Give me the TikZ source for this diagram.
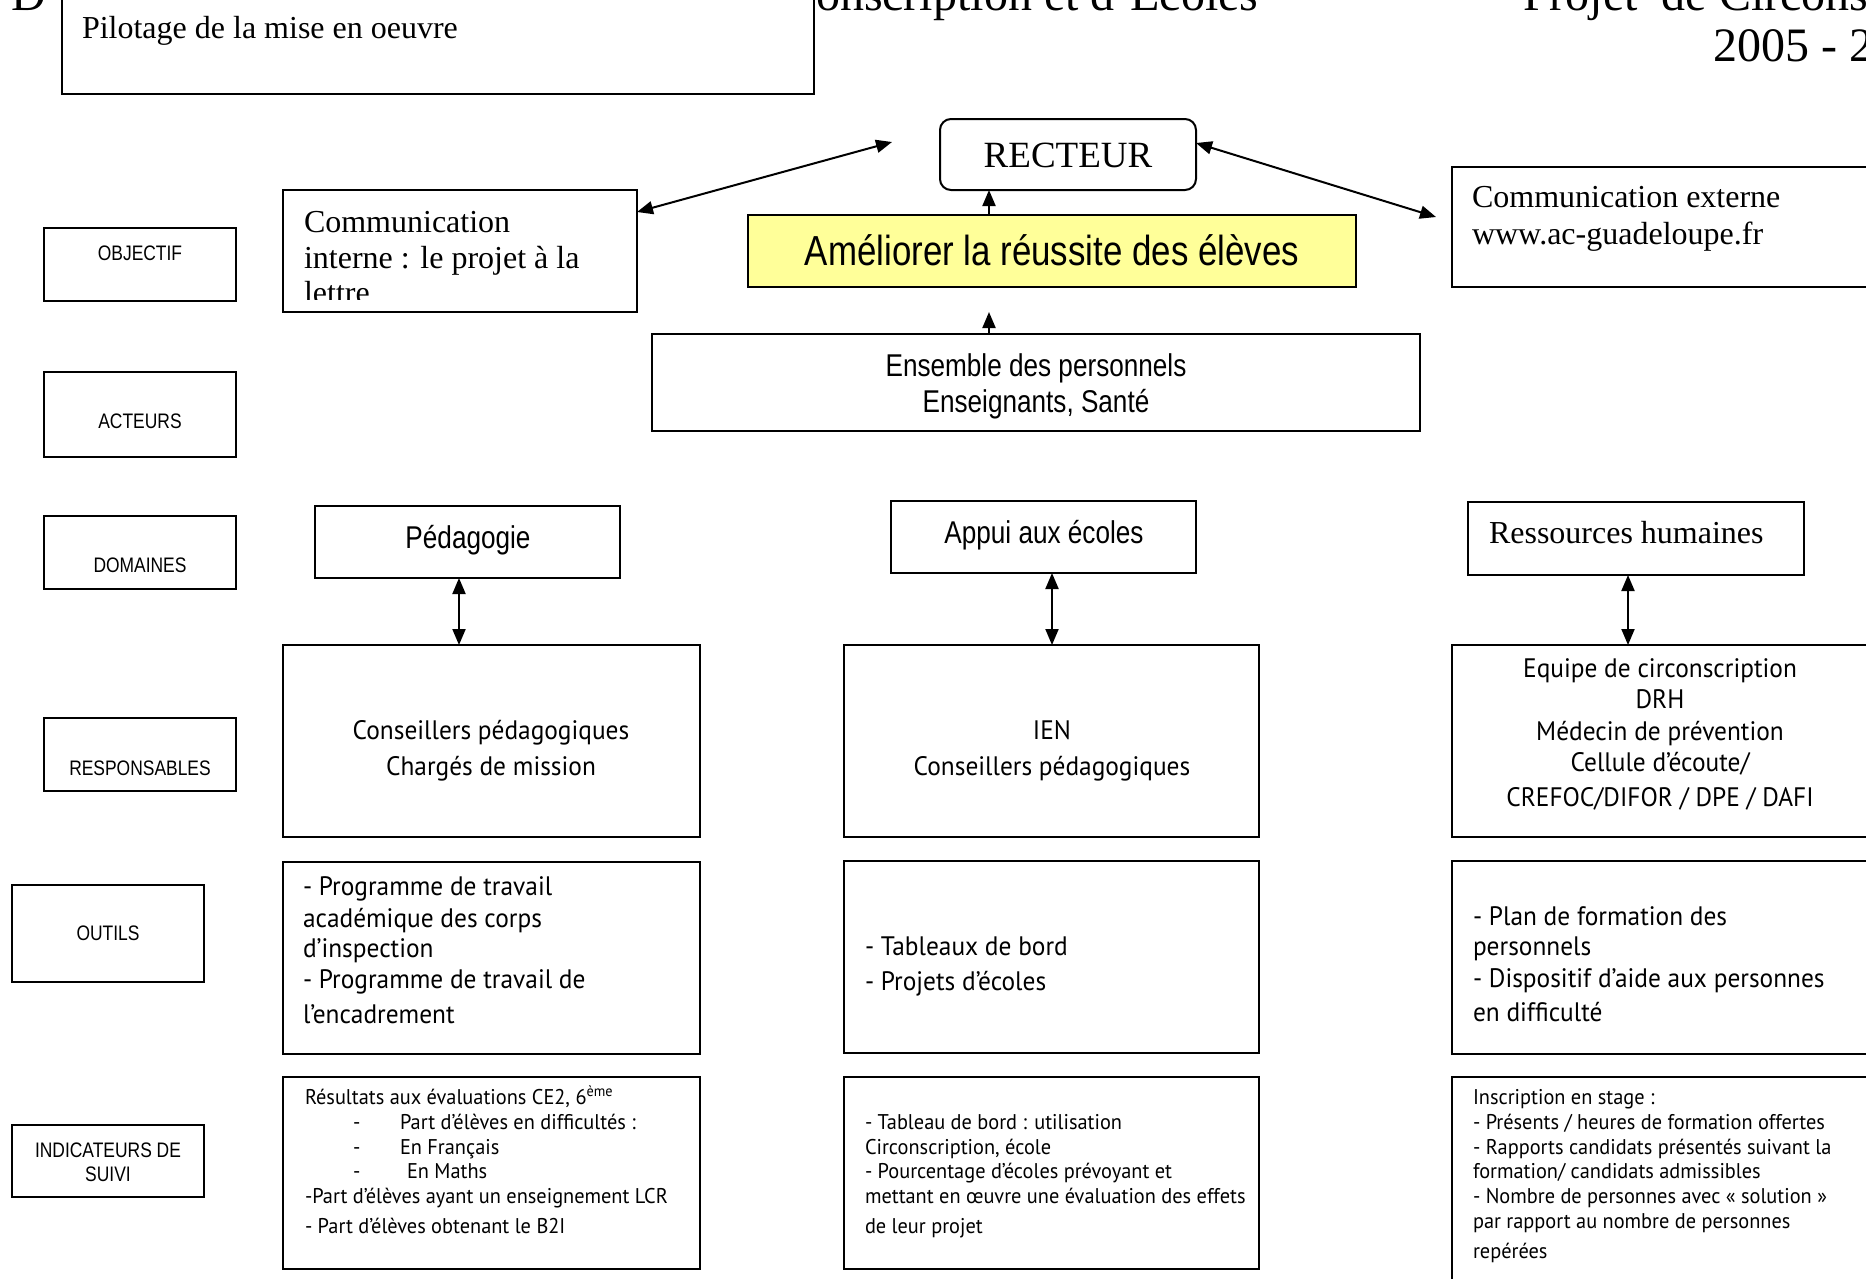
\documentclass[tikz,border=0pt]{standalone}
\usepackage{fontspec}
\setmainfont{Liberation Serif}
\newfontfamily\nsansfam[FakeStretch=0.83]{Liberation Sans}
\newfontfamily\gillfam[FakeStretch=0.95]{PT Sans}
\newfontfamily\gillsmall[FakeStretch=0.955]{PT Sans}
\usetikzlibrary{arrows.meta}
\definecolor{amelfill}{HTML}{FFFF99}
\newcommand\fSer[1]{\rmfamily\fontsize{#1}{#1}\selectfont}
\newcommand\fNs[1]{\nsansfam\fontsize{#1}{#1}\selectfont}
\newcommand\fGs[1]{\gillfam\fontsize{#1}{#1}\selectfont}
\newcommand\fGt[1]{\gillsmall\fontsize{#1}{#1}\selectfont}
\newcommand\mkbox[6][]{\node[box,anchor=north west,minimum width={#5pt-(#3pt)},minimum height={#6pt-(#4pt)},#1] (#2) at (#3,#4) {};}
\newcommand\tx[5][base west]{\node[tx,anchor=#1] (#2) at (#3,#4) {#5};}
\begin{document}
\begin{tikzpicture}[x=1pt,y=-1pt,
  box/.style={draw,line width=2pt,inner sep=0pt,outer sep=0pt,fill=white},
  tx/.style={inner sep=0pt,outer sep=0pt},
  darr/.style={line width=2pt,{Triangle[length=16pt,width=13pt]}-{Triangle[length=16pt,width=13pt]}},
  uarr/.style={line width=2pt,-{Triangle[length=16pt,width=13pt]}}]
\useasboundingbox (0,0) rectangle (1866,1278);
\clip (0,0) rectangle (1866,1278);
\fill[white] (0,0) rectangle (1866,1278);

% header
\begin{scope}[font=\fSer{48}]
\tx{hD}{12}{10}{D}
\tx{hB}{816}{10}{onscription et d’Ecoles}
\tx{hC}{1523}{10}{Projet\ \ de Circonscription}
\tx{hY}{1713}{61}{2005 - 2006}
\end{scope}

% boxes
\mkbox{pil}{62}{-20}{814}{94}
\mkbox{objL}{44}{228}{236}{301}
\mkbox{actL}{44}{372}{236}{457}
\mkbox{domL}{44}{516}{236}{589}
\mkbox{resL}{44}{718}{236}{791}
\mkbox{outL}{12}{885}{204}{982}
\mkbox{indL}{12}{1125}{204}{1197}
\mkbox{comi}{283}{190}{637}{312}
\mkbox[rounded corners=11pt]{rect}{940}{119}{1196}{190}
\mkbox[fill=amelfill]{amel}{748}{215}{1356}{287}
\mkbox{come}{1452}{167}{1900}{287}
\mkbox{ens}{652}{334}{1420}{431}
\mkbox{ped}{315}{506}{620}{578}
\mkbox{app}{891}{501}{1196}{573}
\mkbox{rh}{1468}{502}{1804}{575}
\mkbox{ra}{283}{645}{700}{837}
\mkbox{rb}{844}{645}{1259}{837}
\mkbox{rc}{1452}{645}{1870}{837}
\mkbox{oa}{283}{862}{700}{1054}
\mkbox{ob}{844}{861}{1259}{1053}
\mkbox{oc}{1452}{861}{1870}{1054}
\mkbox{ia}{283}{1077}{700}{1269}
\mkbox{ib}{844}{1077}{1259}{1269}
\mkbox{ic}{1452}{1077}{1870}{1300}

% connectors
\coordinate (xa) at (989,0);
\coordinate (etip) at (0,312);
\coordinate (ciy) at (0,212);
\coordinate (lfree) at (892,142);
\coordinate (ry) at (0,143);
\coordinate (rfree) at (1436,217);
\coordinate (xp) at (459,0);
\coordinate (xq) at (1052,0);
\coordinate (xr) at (1628,0);
\draw[uarr] (xa |- amel.north) -- (xa |- rect.south);
\draw[uarr] (xa |- ens.north) -- (xa |- etip);
\draw[darr] (comi.east |- ciy) -- (lfree);
\draw[darr] (rect.east |- ry) -- (rfree);
\draw[darr] (xp |- ped.south) -- (xp |- ra.north);
\draw[darr] (xq |- app.south) -- (xq |- rb.north);
\draw[darr] (xr |- rh.south) -- (xr |- rc.north);

% serif texts
\begin{scope}[font=\fSer{32}]
\tx{tpil}{82}{38}{Pilotage de la mise en oeuvre}
\tx{tce1}{1472}{207}{Communication externe}
\tx{tce2}{1472}{244}{www.ac-guadeloupe.fr}
\tx{trh}{1489}{543}{Ressources humaines}
\begin{scope}
\clip (283,190) rectangle (637,299);
\tx{tci1}{304}{232}{Communication}
\tx{tci2}{304}{268}{interne : le projet à la}
\tx{tci3}{304}{303}{lettre}
\end{scope}
\end{scope}
\tx[base]{trect}{1068}{167}{\fSer{37}RECTEUR}

% narrow sans texts
\tx[base]{tamel}{1052}{265}{\fNs{42}Améliorer la réussite des élèves}
\begin{scope}[font=\fNs{31.5}]
\tx[base]{tens1}{1036}{376}{Ensemble des personnels}
\tx[base]{tens2}{1036}{412}{Enseignants, Santé}
\tx[base]{tped}{468}{548}{Pédagogie}
\tx[base]{tapp}{1044}{543}{Appui aux écoles}
\end{scope}
\begin{scope}[font=\fNs{21}]
\tx[base]{lobj}{140}{260}{OBJECTIF}
\tx[base]{lact}{140}{428}{ACTEURS}
\tx[base]{ldom}{140}{572}{DOMAINES}
\tx[base]{lres}{140}{775}{RESPONSABLES}
\tx[base]{lout}{108}{940}{OUTILS}
\tx[base]{lind1}{108}{1157}{INDICATEURS DE}
\tx[base]{lind2}{108}{1181}{SUIVI}
\end{scope}

% humanist sans texts
\begin{scope}[font=\fGs{26.7}]
\tx[base]{tra1}{491}{739}{Conseillers pédagogiques}
\tx[base]{tra2}{491}{775}{Chargés de mission}
\tx[base]{trb1}{1052}{739}{IEN}
\tx[base]{trb2}{1052}{775}{Conseillers pédagogiques}
\tx[base]{trc1}{1660}{677}{Equipe de circonscription}
\tx[base]{trc2}{1660}{708}{DRH}
\tx[base]{trc3}{1660}{740}{Médecin de prévention}
\tx[base]{trc4}{1660}{771}{Cellule d’écoute/}
\tx[base]{trc5}{1660}{806}{CREFOC/DIFOR / DPE / DAFI}
\tx{toa1}{303}{895}{- Programme de travail}
\tx{toa2}{303}{927}{académique des corps}
\tx{toa3}{303}{957}{d’inspection}
\tx{toa4}{303}{988}{- Programme de travail de}
\tx{toa5}{303}{1023}{l’encadrement}
\tx{tob1}{865}{955}{- Tableaux de bord}
\tx{tob2}{865}{990}{- Projets d’écoles}
\tx{toc1}{1473}{925}{- Plan de formation des}
\tx{toc2}{1473}{955}{personnels}
\tx{toc3}{1473}{987}{- Dispositif d’aide aux personnes}
\tx{toc4}{1473}{1021}{en difficulté}
\end{scope}

\begin{scope}[font=\fGt{21.3}]
\tx{tia1}{305}{1104}{Résultats aux évaluations CE2, 6\textsuperscript{ème}}
\tx{tia2d}{353}{1129}{-}
\tx{tia2}{400}{1129}{Part d’élèves en difficultés :}
\tx{tia3d}{353}{1154}{-}
\tx{tia3}{400}{1154}{En Français}
\tx{tia4d}{353}{1178}{-}
\tx{tia4}{407}{1178}{En Maths}
\tx{tia5}{305}{1203}{-Part d’élèves ayant un enseignement LCR}
\tx{tia6}{305}{1233}{- Part d’élèves obtenant le B2I}
\tx{tib1}{865}{1129}{- Tableau de bord : utilisation}
\tx{tib2}{865}{1154}{Circonscription, école}
\tx{tib3}{865}{1178}{- Pourcentage d’écoles prévoyant et}
\tx{tib4}{865}{1203}{mettant en œuvre une évaluation des effets}
\tx{tib5}{865}{1233}{de leur projet}
\tx{tic1}{1473}{1104}{Inscription en stage :}
\tx{tic2}{1473}{1129}{- Présents / heures de formation offertes}
\tx{tic3}{1473}{1154}{- Rapports candidats présentés suivant la}
\tx{tic4}{1473}{1178}{formation/ candidats admissibles}
\tx{tic5}{1473}{1203}{- Nombre de personnes avec «~solution~»}
\tx{tic6}{1473}{1228}{par rapport au nombre de personnes}
\tx{tic7}{1473}{1258}{repérées}
\end{scope}
\end{tikzpicture}
\end{document}
